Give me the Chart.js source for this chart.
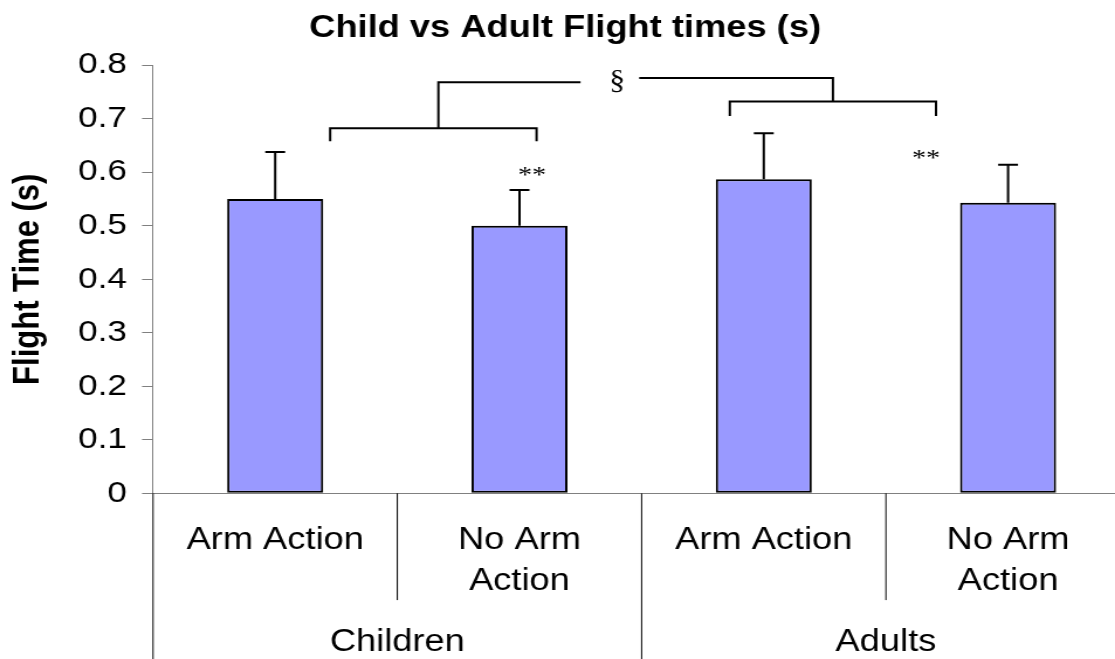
<!DOCTYPE html>
<html>
<head>
<meta charset="utf-8">
<script src="https://cdn.jsdelivr.net/npm/chart.js@4.4.0/dist/chart.umd.min.js"></script>
<style>
  html, body { margin: 0; padding: 0; background: #fff; overflow: hidden; }
  /* the original picture is a little stretched sideways, so is this */
  #wrap { width: 966px; height: 659px; transform: scaleX(1.17); transform-origin: 0 0; }
</style>
</head>
<body>
<div id="wrap"><canvas id="chart"></canvas></div>
<script>
// data
const categories = ['Arm Action', ['No Arm', 'Action'], 'Arm Action', ['No Arm', 'Action']];
const groups = ['Children', 'Adults'];
const flightMeans = [0.55, 0.50, 0.587, 0.543];
const flightSD = [0.088, 0.067, 0.086, 0.071];

// significance brackets, [category position, value]
const childBracket = [[0.225, 0.658], [0.225, 0.682], [1.07, 0.682], [1.07, 0.658]];
const childStem = [[0.668, 0.682], [0.668, 0.768], [1.25, 0.768]];
const adultStem = [[1.49, 0.776], [2.283, 0.776], [2.283, 0.732]];
const adultBracket = [[1.861, 0.705], [1.861, 0.732], [2.705, 0.732], [2.705, 0.705]];
const sigLabels = ['**', '**', '§'];
const sigX = [1.052, 2.664, 1.40];
const sigY = [0.581, 0.613, 0.756];

Chart.defaults.font.family = "'Liberation Sans', Arial, sans-serif";
Chart.defaults.color = '#000';

const extras = {
  id: 'extras',
  afterDatasetsDraw(chart) {
    const { ctx, scales: { x, y } } = chart;
    ctx.save();
    ctx.strokeStyle = '#000';
    ctx.lineWidth = 2;

    // error bars (plus only)
    flightMeans.forEach((m, i) => {
      const px = x.getPixelForValue(i);
      const top = y.getPixelForValue(m + flightSD[i]);
      ctx.beginPath();
      ctx.moveTo(px, y.getPixelForValue(m));
      ctx.lineTo(px, top);
      ctx.moveTo(px - 8.5, top);
      ctx.lineTo(px + 8.5, top);
      ctx.stroke();
    });

    // brackets
    [childBracket, childStem, adultStem, adultBracket].forEach(path => {
      ctx.beginPath();
      path.forEach((p, j) => {
        const px = x.getPixelForValue(p[0]);
        const py = y.getPixelForValue(p[1]);
        if (j === 0) ctx.moveTo(px, py); else ctx.lineTo(px, py);
      });
      ctx.stroke();
    });

    ctx.fillStyle = '#000';
    ctx.textAlign = 'center';
    ctx.textBaseline = 'alphabetic';
    sigLabels.forEach((t, i) => {
      ctx.font = (t === '§' ? '27px' : '24px') + " 'Liberation Serif', 'Times New Roman', serif";
      ctx.fillText(t, x.getPixelForValue(sigX[i]), y.getPixelForValue(sigY[i]));
    });

    // category dividers under the axis
    ctx.lineWidth = 1;
    for (let i = 0; i <= categories.length; i++) {
      const px = x.getPixelForValue(i - 0.5);
      const groupEdge = i % 2 === 0;
      ctx.beginPath();
      ctx.moveTo(px, y.bottom);
      ctx.lineTo(px, groupEdge ? chart.height : x.bottom - 2);
      ctx.stroke();
    }
    ctx.restore();
  }
};

new Chart(document.getElementById('chart'), {
  type: 'bar',
  data: {
    labels: categories,
    datasets: [{
      data: flightMeans,
      backgroundColor: '#9999ff',
      borderColor: '#000',
      borderWidth: 2,
      borderSkipped: false,
      barPercentage: 0.393,
      categoryPercentage: 1
    }]
  },
  options: {
    responsive: true,
    maintainAspectRatio: false,
    animation: false,
    layout: { padding: { left: 0, right: 0, top: 0, bottom: 1.4 } },
    plugins: {
      legend: { display: false },
      tooltip: { enabled: false },
      title: {
        display: true,
        text: 'Child vs Adult Flight times (s)',
        font: { size: 31, weight: 'bold' },
        color: '#000',
        padding: { top: 10, bottom: 18 }
      }
    },
    scales: {
      x: {
        position: 'bottom',
        weight: 0,
        grid: { display: false, drawTicks: false },
        border: { display: true, color: '#808080', width: 1 },
        ticks: { font: { size: 31, lineHeight: 1.32 }, padding: 27, maxRotation: 0, autoSkip: false },
        afterFit(scale) { scale.height = 108.8; }
      },
      x2: {
        type: 'category',
        labels: groups,
        position: 'bottom',
        weight: 1,
        offset: true,
        grid: { display: false, drawTicks: false },
        border: { display: false },
        ticks: { font: { size: 31, lineHeight: 1 }, padding: 24.5, maxRotation: 0 },
        afterFit(scale) { scale.height = 55.5; }
      },
      y: {
        min: 0,
        max: 0.8,
        ticks: { stepSize: 0.1, font: { size: 30 }, padding: 12.9 },
        grid: { drawOnChartArea: false, color: '#808080', tickLength: 9.4 },
        border: { color: '#808080' },
        title: {
          display: true,
          text: 'Flight Time (s)',
          font: { size: 31, weight: 'bold' },
          padding: { top: 5.4, bottom: 20 }
        },
        afterFit(scale) { scale.width = 130.8; }
      }
    }
  },
  plugins: [extras]
});
</script>
</body>
</html>
